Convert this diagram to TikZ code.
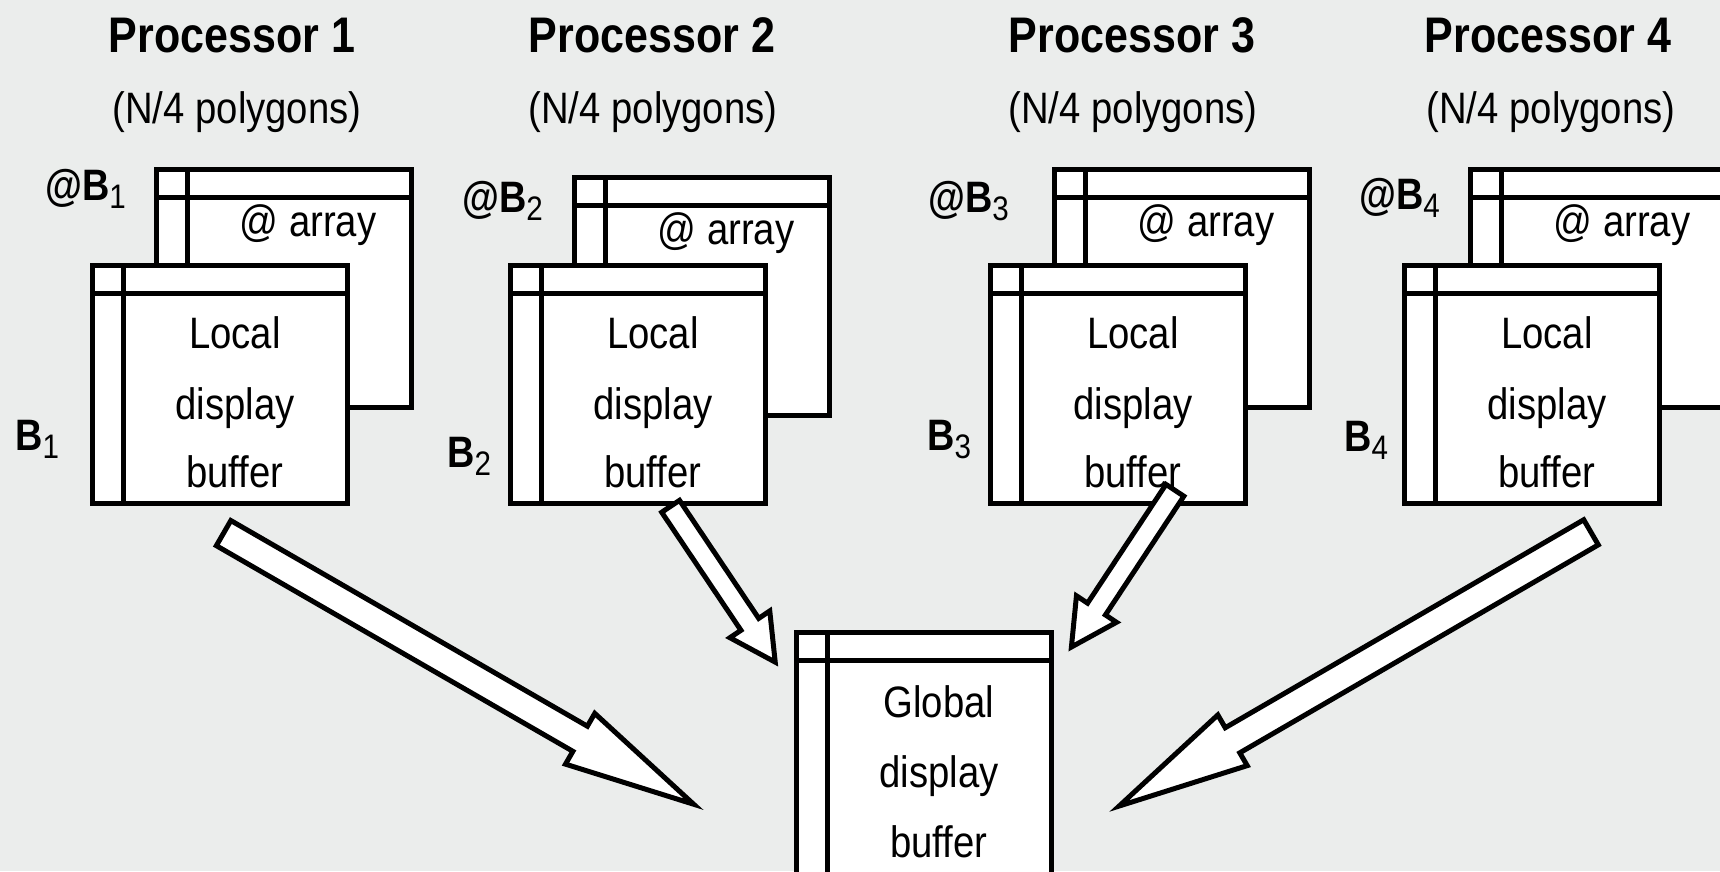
\documentclass[tikz,border=0pt]{standalone}
\usepackage{fontspec}
\setmainfont{Liberation Sans}[FakeStretch=0.87, BoldFeatures={FakeStretch=0.86}]
\usetikzlibrary{calc}

\definecolor{paper}{RGB}{235,237,236}

% lowered index digit used in the B labels
\newcommand\lowidx[1]{\raisebox{-8pt}{\fontsize{34}{34}\selectfont\mdseries #1}}

\tikzset{
  buf/.style={draw=black, fill=white, line width=5pt, minimum width=255pt,
    minimum height=238pt, inner sep=0pt, outer sep=0pt, anchor=north west},
  rule/.style={draw=black, line width=5pt},
  bodytext/.style={inner sep=0pt, font=\fontsize{44}{50}\selectfont, anchor=base},
  title/.style={inner sep=0pt, font=\fontsize{50}{56}\selectfont\bfseries, anchor=base},
  lbl/.style={inner sep=0pt, font=\fontsize{44}{50}\selectfont\bfseries},
  arrowbody/.style={draw=black, fill=white, line width=5pt, line join=miter},
}

% a buffer frame: box with a header strip and an index column
\newcommand\bufpanel[3][]{%
  \node[buf,#1] (#2) at (#3) {};
  \draw[rule] ([yshift=-28.5pt]#2.north west) -- ([yshift=-28.5pt]#2.north east)
              ([xshift=31pt]#2.north west) -- ([xshift=31pt]#2.south west);
}

% hollow block arrow: tail, tip, half shaft width, half head width, head length
\newcommand\fatarrow[5]{%
  \path ($(#2)!#5!(#1)$) coordinate (#1-base);
  \draw[arrowbody]
    ($(#1)!#3!90:(#2)$) -- ($(#1-base)!#3!-90:(#1)$) -- ($(#1-base)!#4!-90:(#1)$)
    -- (#2) -- ($(#1-base)!#4!90:(#1)$) -- ($(#1-base)!#3!90:(#1)$)
    -- ($(#1)!#3!-90:(#2)$) -- cycle;
}

\begin{document}
\begin{tikzpicture}[x=1pt, y=-1pt]
\path[use as bounding box, fill=paper] (0,0) rectangle (1720,871);
\clip (0,0) rectangle (1720,871);

% processor titles
\node[title] (p1) at (232,52) {Processor 1};
\node[title] (p2) at (652,52) {Processor 2};
\node[title] (p3) at (1132,52) {Processor 3};
\node[title] (p4) at (1548,52) {Processor 4};
\node[bodytext] (n1) at (237,123) {(N/4 polygons)};
\node[bodytext] (n2) at (653,123) {(N/4 polygons)};
\node[bodytext] (n3) at (1133,123) {(N/4 polygons)};
\node[bodytext] (n4) at (1551,123) {(N/4 polygons)};

% @ arrays behind the local buffers
\bufpanel{k1}{156,169}
\bufpanel{k2}{574,177}
\bufpanel{k3}{1054,169}
\bufpanel{k4}{1470,169}
\foreach \k in {1,2,3,4}
  \node[bodytext] (k\k t) at ($(k\k.north west)+(152,67.5)$) {@ array};

% local display buffers
\bufpanel{f1}{92,265}
\bufpanel{f2}{510,265}
\bufpanel{f3}{990,265}
\bufpanel{f4}{1404,265}
\foreach \k in {1,2,3,4} {
  \node[bodytext] (f\k a) at ($(f\k.north west)+(143,83)$) {Local};
  \node[bodytext] (f\k b) at ($(f\k.north west)+(143,154)$) {display};
  \node[bodytext] (f\k c) at ($(f\k.north west)+(143,222)$) {buffer};
}

% global display buffer
\bufpanel[minimum height=300pt]{g}{796,632}
\node[bodytext] (ga) at ($(g.north west)+(143,85)$) {Global};
\node[bodytext] (gb) at ($(g.north west)+(143,155)$) {display};
\node[bodytext] (gc) at ($(g.north west)+(143,225)$) {buffer};

% address labels
\node[lbl, anchor=base east] (a1) at (126,200) {@B\lowidx{1}};
\node[lbl, anchor=base east] (a2) at (543,212) {@B\lowidx{2}};
\node[lbl, anchor=base east] (a3) at (1009,212) {@B\lowidx{3}};
\node[lbl, anchor=base east] (a4) at (1440,209) {@B\lowidx{4}};
\node[lbl, anchor=base west] (b1) at (15,450) {B\lowidx{1}};
\node[lbl, anchor=base west] (b2) at (447,467) {B\lowidx{2}};
\node[lbl, anchor=base west] (b3) at (927,450) {B\lowidx{3}};
\node[lbl, anchor=base west] (b4) at (1344,451) {B\lowidx{4}};

% transfers into the global buffer
\coordinate (t1) at (223.6,533.1);  \coordinate (h1) at (693.6,804.2);
\coordinate (t2) at (670.6,506.3);  \coordinate (h2) at (775.2,662.1);
\coordinate (t3) at (1174.9,490.3); \coordinate (h3) at (1071.4,647.0);
\coordinate (t4) at (1591,532.3);   \coordinate (h4) at (1119.2,806);
\fatarrow{t1}{h1}{14.5pt}{29.3pt}{131pt}
\fatarrow{t2}{h2}{10.7pt}{24pt}{45.5pt}
\fatarrow{t3}{h3}{10.7pt}{24pt}{45.5pt}
\fatarrow{t4}{h4}{14.5pt}{29.3pt}{131pt}
\end{tikzpicture}
\end{document}
